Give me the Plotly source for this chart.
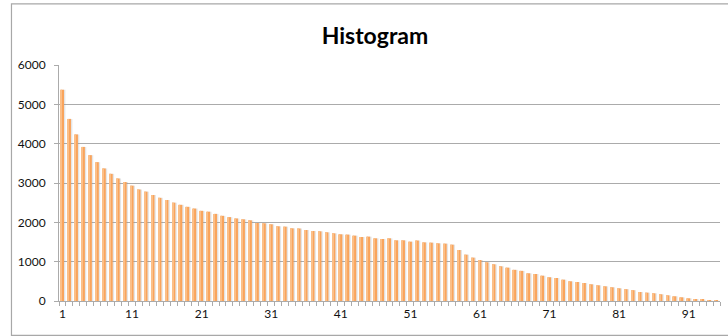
import plotly.graph_objects as go

# Bin numbers and counts per bin
bins = list(range(1, 96))
counts = [
    5370, 4630, 4235, 3918, 3708, 3530, 3370, 3233, 3115, 3025,
    2932, 2835, 2780, 2695, 2623, 2568, 2500, 2445, 2394, 2350,
    2292, 2270, 2215, 2165, 2132, 2098, 2076, 2051, 1983, 1975,
    1950, 1899, 1890, 1847, 1843, 1805, 1780, 1771, 1746, 1720,
    1695, 1687, 1661, 1627, 1636, 1593, 1576, 1593, 1542, 1542,
    1508, 1537, 1490, 1483, 1466, 1458, 1432, 1297, 1178, 1102,
    1042, 984, 933, 882, 847, 792, 766, 704, 687, 643,
    603, 585, 542, 500, 483, 458, 424, 399, 373, 348,
    322, 300, 275, 229, 212, 195, 170, 144, 119, 93,
    68, 51, 34, 17, 5,
]
x_labels = [1, 11, 21, 31, 41, 51, 61, 71, 81, 91]
y_ticks = [0, 1000, 2000, 3000, 4000, 5000, 6000]

FONT = "Lato, 'Open Sans', sans-serif"
GRID = "#ababab"

fig = go.Figure()

# soft drop shadow behind each bar
fig.add_trace(go.Bar(
    x=bins, y=counts, width=0.66, offset=-0.24,
    marker=dict(color="rgba(150,150,150,0.25)", line=dict(width=0)),
    hoverinfo="skip", showlegend=False,
))
# main orange bars
fig.add_trace(go.Bar(
    x=bins, y=counts, width=0.48, offset=-0.26,
    marker=dict(color="#f9a45c", line=dict(width=0)),
    showlegend=False,
))
# lighter left edge for a gradient look
fig.add_trace(go.Bar(
    x=bins, y=counts, width=0.18, offset=-0.26,
    marker=dict(color="#fbbf88", line=dict(width=0)),
    hoverinfo="skip", showlegend=False,
))

fig.update_layout(
    width=728, height=336,
    margin=dict(l=59, r=8, t=65, b=35),
    paper_bgcolor="white", plot_bgcolor="white",
    barmode="overlay",
    font=dict(family=FONT, size=12, color="#111111"),
    title=dict(
        text="<b>Histogram</b>", x=0.478, xref="paper", xanchor="center",
        y=0.893, yref="container", yanchor="middle",
        font=dict(family=FONT, size=23, color="#000000"),
    ),
    xaxis=dict(
        range=[0.5, 95.5], tickmode="array", tickvals=x_labels,
        ticktext=[str(v) for v in x_labels], ticks="",
        showgrid=False, zeroline=False,
        showline=True, linecolor=GRID, linewidth=1,
        minor=dict(ticks="outside", tick0=0.5, dtick=1, ticklen=4,
                   tickcolor=GRID, showgrid=False),
        tickfont=dict(family=FONT, size=12, color="#111111"),
        ticklabelstandoff=2,
    ),
    yaxis=dict(
        range=[0, 6000], tickmode="array", tickvals=y_ticks,
        ticks="outside", ticklen=4, tickcolor=GRID,
        showgrid=True, gridcolor=GRID, gridwidth=1,
        zeroline=False, showline=True, linecolor=GRID, linewidth=1,
        tickfont=dict(family=FONT, size=12, color="#111111"),
        ticklabelstandoff=6,
    ),
    shapes=[dict(
        type="rect", xref="paper", yref="paper",
        x0=-0.0719, x1=1.08, y0=-0.146, y1=1.259,
        line=dict(color="#a8a8a8", width=1.2), fillcolor="rgba(0,0,0,0)",
        layer="below",
    )],
)

fig.write_html("out.html")
